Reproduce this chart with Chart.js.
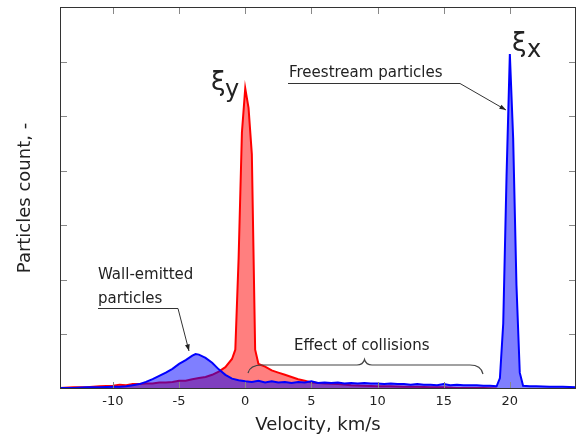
<!DOCTYPE html>
<html>
<head>
<meta charset="utf-8">
<script src="https://cdn.jsdelivr.net/npm/chart.js@4.4.1/dist/chart.umd.min.js"></script>
<style>
html,body{margin:0;padding:0;background:#fff;}
#wrap{width:581px;height:437px;}
</style>
</head>
<body>
<div id="wrap"><canvas id="c" width="581" height="437"></canvas></div>
<script>
// xi_y distribution (red)
const velY = [-14,-13,-12,-11,-10,-9.5,-9,-8.5,-8,-7.5,-7,-6.5,-6,-5.5,-5,-4.5,-4,-3.5,-3,-2.5,-2,-1.5,-1,-0.75,-0.5,-0.25,0,0.25,0.5,0.75,1,1.5,2,2.5,3,3.5,4,4.5,5,5.5,6,7,8,9,10,11,12,13,14,15,16,17,18,19];
const countY = [0.02,0.03,0.03,0.05,0.06,0.08,0.07,0.09,0.09,0.1,0.1,0.12,0.12,0.13,0.15,0.15,0.18,0.2,0.22,0.26,0.32,0.4,0.55,0.72,2.4,4.7,5.51,5.15,4.3,0.72,0.46,0.41,0.34,0.3,0.26,0.22,0.18,0.15,0.12,0.11,0.1,0.09,0.07,0.06,0.05,0.05,0.04,0.04,0.03,0.03,0.02,0.02,0.02,0.01];
// xi_x distribution (blue)
const velX = [-14,-13,-12,-11,-10,-9.5,-9,-8.5,-8,-7.5,-7,-6.5,-6,-5.5,-5,-4.5,-4,-3.75,-3.5,-3,-2.5,-2,-1.5,-1,-0.5,0,0.5,1,1.5,2,2.5,3,3.5,4,4.5,5,5.5,6,6.5,7,7.5,8,8.5,9,9.5,10,10.5,11,11.5,12,12.5,13,13.5,14,14.5,15,15.5,16,16.5,17,17.5,18,18.5,19,19.25,19.5,19.75,20,20.25,20.5,20.75,21,21.5,22,23,24,25];
const countX = [0.02,0.02,0.03,0.03,0.04,0.04,0.05,0.07,0.09,0.13,0.18,0.24,0.3,0.37,0.46,0.53,0.61,0.64,0.63,0.57,0.48,0.36,0.26,0.19,0.16,0.14,0.13,0.15,0.12,0.14,0.12,0.13,0.11,0.13,0.12,0.14,0.11,0.12,0.11,0.12,0.1,0.11,0.1,0.11,0.1,0.1,0.09,0.1,0.09,0.09,0.08,0.09,0.08,0.08,0.07,0.09,0.07,0.08,0.07,0.07,0.07,0.06,0.06,0.05,0.2,1.2,3.9,6.14,4.6,1.9,0.3,0.06,0.05,0.05,0.04,0.04,0.03];
const xTicks = [-10,-5,0,5,10,15,20];
const yTicks = [1,2,3,4,5,6];

const FONT = "'DejaVu Sans', sans-serif";

const framePlugin = {
  id: 'frame',
  afterDraw(chart) {
    const {ctx, chartArea: a, scales: {x, y}} = chart;
    ctx.save();
    // ticks (inward)
    ctx.strokeStyle = '#888';
    ctx.lineWidth = 1;
    ctx.beginPath();
    xTicks.forEach(v => {
      const px = Math.round(x.getPixelForValue(v)) + 0.5;
      ctx.moveTo(px, a.bottom); ctx.lineTo(px, a.bottom - 7);
      ctx.moveTo(px, a.top); ctx.lineTo(px, a.top + 7);
    });
    yTicks.forEach(v => {
      const py = Math.round(y.getPixelForValue(v)) + 0.5;
      ctx.moveTo(a.left, py); ctx.lineTo(a.left + 7, py);
      ctx.moveTo(a.right, py); ctx.lineTo(a.right - 7, py);
    });
    ctx.stroke();
    // frame
    ctx.strokeStyle = '#333';
    ctx.lineWidth = 1;
    ctx.strokeRect(Math.round(a.left) + 0.5, Math.round(a.top) + 0.5,
                   Math.round(a.right - a.left) - 1, Math.round(a.bottom - a.top) - 1);

    // annotations
    ctx.fillStyle = '#222';
    ctx.textBaseline = 'alphabetic';
    ctx.textAlign = 'left';
    ctx.font = '15px ' + FONT;
    ctx.fillText('Freestream particles', 289, 77);
    ctx.fillText('Wall-emitted', 98, 279);
    ctx.fillText('particles', 98, 303);
    ctx.fillText('Effect of collisions', 294, 350);

    ctx.font = '26px ' + FONT;
    ctx.fillText('\u03BE', 211, 90);
    ctx.fillText('\u03BE', 512, 51);
    ctx.font = '24px ' + FONT;
    ctx.fillText('y', 225, 97);
    ctx.fillText('x', 527, 57);

    ctx.strokeStyle = '#333';
    ctx.lineWidth = 1;
    function arrow(x1, y1, x2, y2) {
      ctx.beginPath(); ctx.moveTo(x1, y1); ctx.lineTo(x2, y2); ctx.stroke();
      const ang = Math.atan2(y2 - y1, x2 - x1), L = 7, w = 0.35;
      ctx.beginPath();
      ctx.moveTo(x2, y2);
      ctx.lineTo(x2 - L * Math.cos(ang - w), y2 - L * Math.sin(ang - w));
      ctx.lineTo(x2 - L * Math.cos(ang + w), y2 - L * Math.sin(ang + w));
      ctx.closePath();
      ctx.fillStyle = '#222';
      ctx.fill();
    }
    // freestream
    ctx.beginPath(); ctx.moveTo(288, 83.5); ctx.lineTo(460, 83.5); ctx.stroke();
    arrow(460, 83.5, 506, 110);
    // wall emitted
    ctx.beginPath(); ctx.moveTo(98, 308.5); ctx.lineTo(178, 308.5); ctx.stroke();
    arrow(178, 308.5, 189, 351);
    // brace
    ctx.strokeStyle = '#444';
    ctx.lineWidth = 1.2;
    ctx.beginPath();
    ctx.moveTo(248, 373);
    ctx.quadraticCurveTo(250, 365, 262, 365);
    ctx.lineTo(357, 365);
    ctx.quadraticCurveTo(363, 365, 364.5, 359.5);
    ctx.quadraticCurveTo(366, 365, 372, 365);
    ctx.lineTo(470, 365);
    ctx.quadraticCurveTo(481, 365, 483, 374);
    ctx.stroke();
    ctx.restore();
  }
};

new Chart(document.getElementById('c'), {
  type: 'line',
  data: {
    datasets: [
      {
        label: 'xi_x',
        data: velX.map((v, i) => ({x: v, y: countX[i]})),
        borderColor: '#0000ff',
        backgroundColor: 'rgba(0,0,255,0.5)',
        borderWidth: 2,
        fill: 'origin',
        pointRadius: 0,
        tension: 0
      },
      {
        label: 'xi_y',
        data: velY.map((v, i) => ({x: v, y: countY[i]})),
        borderColor: '#ff0000',
        backgroundColor: 'rgba(255,0,0,0.5)',
        borderWidth: 2,
        fill: 'origin',
        pointRadius: 0,
        tension: 0
      }
    ]
  },
  options: {
    responsive: false,
    animation: false,
    devicePixelRatio: 1,
    layout: {padding: {top: 7, right: 5, left: 0, bottom: 0}},
    plugins: {legend: {display: false}, tooltip: {enabled: false}},
    scales: {
      x: {
        type: 'linear', min: -14, max: 25,
        afterBuildTicks: s => { s.ticks = xTicks.map(v => ({value: v})); },
        afterFit: s => { s.height = 48; },
        grid: {display: false, drawTicks: false},
        border: {display: false},
        ticks: {padding: 5, color: '#222', font: {family: FONT, size: 13}, maxRotation: 0},
        title: {display: true, text: 'Velocity, km/s', color: '#222', font: {family: FONT, size: 18}, padding: {top: 0, bottom: 1}}
      },
      y: {
        type: 'linear', min: 0, max: 7,
        afterBuildTicks: s => { s.ticks = yTicks.map(v => ({value: v})); },
        afterFit: s => { s.width = 60; },
        grid: {display: false, drawTicks: false},
        border: {display: false},
        ticks: {display: false},
        title: {display: true, text: 'Particles count, -', color: '#222', font: {family: FONT, size: 18}, padding: {top: 15, bottom: 0}}
      }
    }
  },
  plugins: [framePlugin]
});
</script>
</body>
</html>
